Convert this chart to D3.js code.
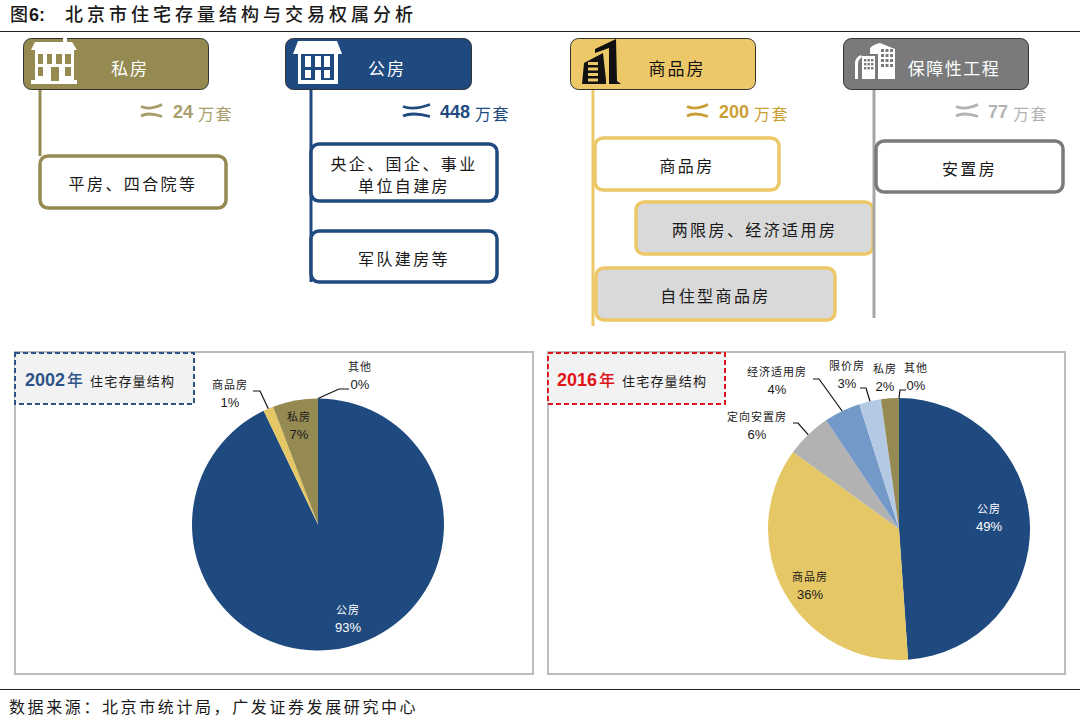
<!DOCTYPE html>
<html>
<head>
<meta charset="utf-8">
<script src="https://cdn.jsdelivr.net/npm/d3@7"></script>
<style>
  html, body { margin: 0; padding: 0; background: #fff; }
  svg { display: block; }
  text { font-family: "Liberation Sans", "Noto Sans CJK SC", sans-serif; fill: #1a1a1a; }
</style>
</head>
<body>
<div id="chart"></div>
<script>
// values
const titlePrefix = "图";
const titleNumber = "6:";
const titleText = "北京市住宅存量结构与交易权属分析";
const sourceText = "数据来源\uFF1A北京市统计局\uFF0C广发证券发展研究中心";

const tenureNames = ["私房", "公房", "商品房", "保障性工程"];
const tenureCounts = [24, 448, 200, 77];
const countUnit = "万套";
const tenureItems = [
  ["平房、四合院等"],
  ["央企、国企、事业\n单位自建房", "军队建房等"],
  ["商品房", "两限房、经济适用房", "自住型商品房"],
  ["安置房"],
];

const pieYears = ["2002", "2016"];
const pieYearSuffix = "年";
const pieCaption = "住宅存量结构";

const names2002 = ["公房", "商品房", "私房", "其他"];
const shares2002 = [92.9, 1.3, 5.8, 0];
const labels2002 = ["93%", "1%", "7%", "0%"];

const names2016 = ["公房", "商品房", "定向安置房", "经济适用房", "限价房", "私房", "其他"];
const shares2016 = [48.9, 36.1, 5.6, 4.5, 2.7, 2.2, 0];
const labels2016 = ["49%", "36%", "6%", "4%", "3%", "2%", "0%"];

// layout and styling
const width = 1080;
const height = 722;
const CJK = '"Noto Sans CJK SC", sans-serif';

const palette = {
  olive: "#958a52",
  oliveText: "#a89e6b",
  navy: "#1f4a7f",
  gold: "#edc868",
  goldText: "#c9a033",
  grey: "#7a7a7a",
  greyLine: "#a6a6a6",
  greyText: "#b3b3b3",
  panel: "#d9d9d9",
};

const columns = [
  {
    header: [23, 208], line: 40, lineEnd: 156, color: palette.olive, waveColor: palette.oliveText,
    headerText: 130, wave: [141, 162], count: 173, unit: 198, icon: "private",
    boxes: [{ x: 40, y: 156, w: 186, h: 52 }],
  },
  {
    header: [285, 471], line: 311, lineEnd: 282, color: palette.navy, waveColor: palette.navy,
    headerText: 387, wave: [403, 430], count: 440, unit: 475, icon: "public",
    boxes: [{ x: 311, y: 144, w: 186, h: 57 }, { x: 311, y: 231, w: 186, h: 51 }],
  },
  {
    header: [570, 755], line: 593, lineEnd: 326, color: palette.gold, waveColor: palette.goldText,
    headerText: 677, wave: [687, 708], count: 719, unit: 754, icon: "commercial", darkHeader: true,
    boxes: [
      { x: 595, y: 138, w: 184, h: 52 },
      { x: 636, y: 202, w: 237, h: 52, fill: palette.panel },
      { x: 596, y: 268, w: 239, h: 52, fill: palette.panel },
    ],
  },
  {
    header: [843, 1028], line: 874, lineEnd: 318, color: palette.grey, lineColor: palette.greyLine, waveColor: palette.greyText,
    headerText: 954, wave: [956, 978], count: 988, unit: 1013, icon: "security",
    boxes: [{ x: 876, y: 141, w: 187, h: 51 }],
  },
];

const svg = d3.select("#chart").append("svg")
  .attr("width", width)
  .attr("height", height)
  .attr("viewBox", [0, 0, width, height]);

function cjkText(g, x, y, str, size, spacing, anchor) {
  return g.append("text")
    .attr("x", x)
    .attr("y", y)
    .attr("text-anchor", anchor || "middle")
    .style("font-family", CJK)
    .style("font-size", size + "px")
    .style("letter-spacing", (spacing || 0) + "px")
    .text(str);
}

function renderTitle() {
  svg.append("text").attr("x", 10).attr("y", 21)
    .style("font-family", CJK).style("font-size", "18px").style("font-weight", 500)
    .text(titlePrefix);
  svg.append("text").attr("x", 29).attr("y", 21)
    .style("font-size", "18px").style("font-weight", 700)
    .text(titleNumber);
  cjkText(svg, 65, 21, titleText, 18, 4, "start").style("font-weight", 500);
  svg.append("line").attr("x1", 0).attr("x2", width).attr("y1", 31.5).attr("y2", 31.5)
    .attr("stroke", "#222").attr("stroke-width", 1);

  svg.append("line").attr("x1", 0).attr("x2", width).attr("y1", 689.5).attr("y2", 689.5)
    .attr("stroke", "#222").attr("stroke-width", 1);
  cjkText(svg, 9, 713, sourceText, 16, 2.6, "start");
}

function rects(g, list, fill) {
  g.selectAll(null).data(list).join("rect")
    .attr("x", (d) => d[0]).attr("y", (d) => d[1])
    .attr("width", (d) => d[2]).attr("height", (d) => d[3])
    .attr("fill", fill);
}

const iconDrawers = {
  private(g, bg) {
    g.append("path").attr("fill", "#fff")
      .attr("d", "M15,8 L43,8 L43,4 L47,4 L47,8 L52,8 L57,16 L54,16 L54,46 L57,46 L57,50 L11,50 L11,46 L15,46 L15,16 L11,16 Z");
    rects(g, [[18, 20, 5, 10], [27, 20, 5, 10], [36, 20, 6, 10], [45, 20, 6, 10],
      [18, 33, 5, 9], [45, 33, 6, 9], [31, 33, 8, 14]], bg);
  },
  public(g, bg) {
    g.append("path").attr("fill", "#fff").attr("d", "M13,7 L52,7 L57,20 L8,20 Z");
    rects(g, [[13, 20, 40, 30]], "#fff");
    rects(g, [[16, 20, 33, 26]], bg);
    rects(g, [[20, 22, 6, 11], [30, 22, 6, 11], [39, 22, 6, 11],
      [20, 36, 6, 8], [30, 36, 6, 10], [39, 36, 6, 8]], "#fff");
  },
  commercial(g, bg) {
    g.append("path").attr("fill", "#111")
      .attr("d", "M12,50 L14,29 L33,19 L36,46 L36,50 Z M25,15 L46,5 L47,47 L51,50 L39,50 L39,14 L25,19 Z");
    rects(g, [[18, 28, 10, 3], [18, 33.5, 10, 3], [18, 39, 10, 3], [18, 44.5, 10, 3]], bg);
  },
  security(g, bg) {
    g.append("path").attr("fill", "#fff")
      .attr("d", "M12,45 L12,28 C13,24 15,22 18,21 L19,23 C16,25 15,27 15,30 L15,45 Z M19,45 L19,22 L32,22 L32,45 Z M27,20 L27,14 C30,11 33,10 37,9 L52,15 L52,45 L35,45 L35,20 Z");
    const big = [];
    const small = [];
    [15, 20, 25, 30].forEach((y) => [38, 42.5, 47].forEach((x) => big.push([x, y, 3, 3])));
    [25, 29, 33].forEach((y) => [21, 24.5, 28].forEach((x) => small.push([x, y, 2.4, 2.4])));
    rects(g, big, bg);
    rects(g, small, bg);
  },
};

const iconOrigin = { private: [20, 34], public: [285, 34], commercial: [570, 34], security: [843, 34] };

function renderColumn(col, i) {
  const g = svg.append("g").attr("class", "column");

  g.append("line")
    .attr("x1", col.line).attr("x2", col.line)
    .attr("y1", 88).attr("y2", col.lineEnd)
    .attr("stroke", col.lineColor || col.color)
    .attr("stroke-width", 3);

  g.append("rect")
    .attr("x", col.header[0] + 0.5).attr("y", 38.5)
    .attr("width", col.header[1] - col.header[0]).attr("height", 51)
    .attr("rx", 8)
    .attr("fill", col.color)
    .attr("stroke", "#333").attr("stroke-width", 1);

  const origin = iconOrigin[col.icon];
  const icon = g.append("g").attr("transform", `translate(${origin[0]},${origin[1]})`);
  iconDrawers[col.icon](icon, col.color);

  cjkText(g, col.headerText, 75, tenureNames[i], 17, tenureNames[i].length > 3 ? 1.5 : 2)
    .style("fill", col.darkHeader ? "#111" : "#fff");

  // the little double wave in front of each count
  const wave = d3.scaleLinear().domain([0, 1]).range(col.wave);
  g.append("path")
    .attr("d", `M${wave(0)},106.5 C${wave(0.3)},109.5 ${wave(0.6)},108.5 ${wave(1)},104.5`)
    .attr("fill", "none").attr("stroke", col.waveColor).attr("stroke-width", 2.8);
  g.append("path")
    .attr("d", `M${wave(0)},116 C${wave(0.3)},112.5 ${wave(0.6)},113.5 ${wave(1)},116.5`)
    .attr("fill", "none").attr("stroke", col.waveColor).attr("stroke-width", 2.8);

  g.append("text").attr("x", col.count).attr("y", 118)
    .style("font-size", "18px").style("font-weight", 700)
    .style("fill", col.waveColor)
    .text(tenureCounts[i]);
  cjkText(g, col.unit, 120, countUnit, 16, 1.5, "start").style("fill", col.waveColor);

  col.boxes.forEach((box, k) => {
    g.append("rect")
      .attr("x", box.x).attr("y", box.y)
      .attr("width", box.w).attr("height", box.h)
      .attr("rx", 8)
      .attr("fill", box.fill || "#fff")
      .attr("stroke", col.color)
      .attr("stroke-width", 3.5);
    const lines = tenureItems[i][k].split("\n");
    const cx = box.x + box.w / 2;
    const cy = box.y + box.h / 2;
    lines.forEach((line, n) => {
      cjkText(g, cx, cy + 8 + (n - (lines.length - 1) / 2) * 22, line, 16, 2.4);
    });
  });
}

const pieConfigs = [
  {
    frame: [15, 352, 518, 322], tag: [15, 353, 179, 51], tagColor: "#2f5286", yearColor: "#2f5286",
    center: [318, 524.5], radius: 126,
    names: names2002, shares: shares2002, labels: labels2002,
    colors: [palette.navy, "#e5c765", palette.olive, "#8c8c8c"],
    tagText: [25, 90],
    place: [
      { x: 348, y: 614, light: true },
      { x: 230, y: 389, elbow: [[260, 391], [253, 391]] },
      { x: 299, y: 421 },
      { x: 360, y: 371, elbow: [[339, 389], [349, 389]] },
    ],
  },
  {
    frame: [548, 352, 517, 322], tag: [548, 353, 177, 51], tagColor: "#e0141b", yearColor: "#e0141b",
    center: [899, 529], radius: 131,
    names: names2016, shares: shares2016, labels: labels2016,
    colors: [palette.navy, "#e5c765", "#b2b2b2", "#7399c9", "#b4c9e3", palette.olive, "#8c8c8c"],
    tagText: [557, 622],
    place: [
      { x: 989, y: 513, light: true },
      { x: 810, y: 581 },
      { x: 757, y: 421, elbow: [[798, 423], [793, 423]] },
      { x: 777, y: 376, elbow: [[819, 379], [813, 379]] },
      { x: 847, y: 370, elbow: [[866, 388], [860, 388]] },
      { x: 885, y: 373 },
      { x: 916, y: 372, elbow: [[900, 390], [906, 390]] },
    ],
  },
];

function renderPie(cfg, i) {
  const g = svg.append("g").attr("class", "pie-panel");

  g.append("rect")
    .attr("x", cfg.frame[0]).attr("y", cfg.frame[1])
    .attr("width", cfg.frame[2]).attr("height", cfg.frame[3])
    .attr("fill", "#fff")
    .attr("stroke", "#bdbdbd").attr("stroke-width", 2);

  g.append("rect")
    .attr("x", cfg.tag[0]).attr("y", cfg.tag[1])
    .attr("width", cfg.tag[2]).attr("height", cfg.tag[3])
    .attr("fill", "#f2f2f2")
    .attr("stroke", cfg.tagColor).attr("stroke-width", 2)
    .attr("stroke-dasharray", "5 3");

  g.append("text").attr("x", cfg.tagText[0]).attr("y", 386)
    .style("font-size", "18px").style("font-weight", 700)
    .style("fill", cfg.yearColor)
    .text(pieYears[i]);
  cjkText(g, cfg.tagText[0] + 42, 386, pieYearSuffix, 16, 0, "start")
    .style("fill", cfg.yearColor).style("font-weight", 500);
  cjkText(g, cfg.tagText[1], 386, pieCaption, 13, 1.2, "start");

  const slices = d3.pie().sort(null)(cfg.shares);
  const arc = d3.arc().innerRadius(0).outerRadius(cfg.radius);
  const rim = d3.arc().innerRadius(cfg.radius).outerRadius(cfg.radius);

  const pie = g.append("g").attr("transform", `translate(${cfg.center})`);
  pie.selectAll("path").data(slices).join("path")
    .attr("d", arc)
    .attr("fill", (d, k) => cfg.colors[k]);

  slices.forEach((slice, k) => {
    const p = cfg.place[k];
    if (p.elbow) {
      const start = rim.centroid(slice);
      const points = [[cfg.center[0] + start[0], cfg.center[1] + start[1]], ...p.elbow];
      g.append("path")
        .attr("d", d3.line()(points))
        .attr("fill", "none")
        .attr("stroke", "#111")
        .attr("stroke-width", 1.2);
    }
    const colour = p.light ? "#fff" : "#1a1a1a";
    cjkText(g, p.x, p.y, cfg.names[k], 11, 1).style("fill", colour);
    g.append("text").attr("x", p.x).attr("y", p.y + 18)
      .attr("text-anchor", "middle")
      .style("font-size", "13px")
      .style("fill", colour)
      .text(cfg.labels[k]);
  });
}

renderTitle();
columns.forEach(renderColumn);
pieConfigs.forEach(renderPie);
</script>
</body>
</html>
